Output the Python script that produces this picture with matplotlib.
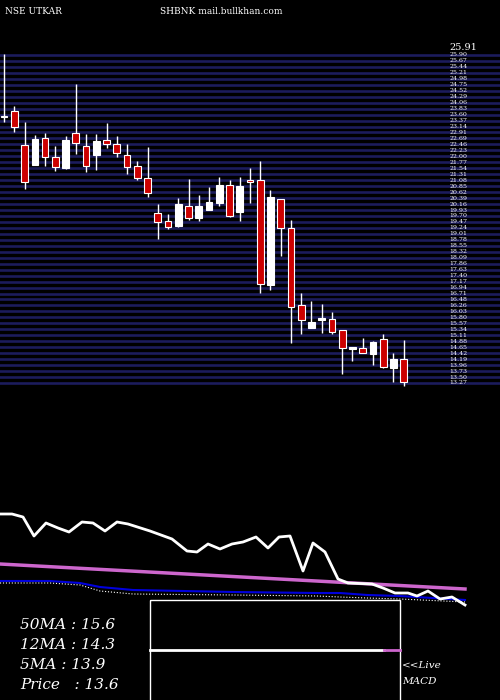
import numpy as np
import matplotlib
matplotlib.use("Agg")
import matplotlib.pyplot as plt

# candle data (price) ---------
opens  = [23.55, 23.74, 22.43, 21.67, 22.70, 21.97, 21.55, 22.90, 22.40, 22.05,
          22.63, 22.47, 22.05, 21.63, 21.16, 19.82, 19.51, 19.32, 20.09, 19.62,
          19.93, 20.20, 20.90, 19.86, 21.05, 21.09, 17.05, 20.36, 19.24, 16.28,
          15.39, 15.70, 15.74, 15.31, 14.58, 14.62, 14.39, 14.97, 13.85, 14.20]
closes = [23.50, 23.13, 21.01, 22.67, 21.97, 21.59, 22.63, 22.51, 21.63, 22.59,
          22.47, 22.13, 21.59, 21.16, 20.59, 19.47, 19.28, 20.16, 19.62, 20.09,
          20.24, 20.90, 19.70, 20.86, 21.02, 17.08, 20.43, 19.24, 16.20, 15.70,
          15.62, 15.72, 15.24, 14.62, 14.60, 14.43, 14.85, 13.89, 14.20, 13.31]
highs  = [25.94, 23.94, 23.32, 22.82, 22.90, 22.40, 22.78, 24.78, 22.86, 22.86,
          23.28, 22.78, 22.47, 21.82, 22.36, 20.16, 19.78, 20.39, 21.13, 20.51,
          20.82, 21.20, 21.09, 21.20, 21.55, 21.82, 20.70, 20.36, 19.55, 16.74,
          16.43, 16.31, 16.01, 15.31, 14.66, 15.00, 14.89, 15.16, 14.43, 14.93]
lows   = [23.32, 22.94, 20.74, 21.67, 21.63, 21.43, 21.51, 22.09, 21.40, 21.47,
          22.32, 21.97, 21.32, 21.09, 20.43, 18.82, 19.20, 19.28, 19.55, 19.51,
          19.93, 20.09, 19.66, 19.51, 20.20, 16.74, 16.85, 18.16, 14.81, 15.16,
          15.39, 15.20, 15.16, 13.62, 14.12, 14.43, 13.97, 13.85, 13.31, 13.16]

# indicator lines (panel pixel units) --------
ma_x   = [0, 12, 23, 34, 46, 58, 69, 82, 93, 105, 117, 128, 150, 172, 187, 197, 208, 220,
          232, 243, 256, 268, 279, 290, 303, 313, 325, 338, 348, 372, 383, 395, 408, 417,
          428, 440, 452, 465]
ma_price = [514, 514, 517, 536, 523, 528, 532, 522, 523, 531, 522, 524, 531, 539, 551, 552,
            544, 549, 544, 542, 537, 548, 537, 536, 571, 543, 552, 579, 583, 584, 588, 593,
            593, 596, 591, 599, 597, 605]
ma50_x = [0, 465]
ma50_y = [564, 589]
ma12_x = [0, 50, 80, 100, 133, 233, 317, 340, 367, 400, 465]
ma12_y = [581, 581, 583, 587, 590, 592, 593, 593, 595, 596, 600]
ma5_y  = [583, 583, 585, 591, 594, 595, 596, 597, 598, 599, 602]

labels = ["50MA : 15.6", "12MA : 14.3", "5MA : 13.9", "Price   : 13.6"]

fig = plt.figure(figsize=(5, 7), dpi=100, facecolor="black")

# price panel --------
ax = fig.add_axes([0, 1 - 390 / 700, 1, 340 / 700])
ax.set_facecolor("black")
y_top, y_bot = 26.09, 13.0
ax.set_ylim(y_bot, y_top)
ax.set_xlim(-0.4, 48.4)
ax.axis("off")

grid = np.linspace(25.9, 13.27, 56)
for g in grid:
    ax.axhline(g, color="#1c1c5c", lw=1.9, zorder=0)
    ax.text(43.5, g, f"{g:.2f}", color="white", fontsize=4.5, va="center",
            family="DejaVu Serif", zorder=1)
ax.text(43.5, 26.2, "25.91", color="white", fontsize=7, va="center", family="DejaVu Serif")

for i in range(len(opens)):
    o, c, h, l = opens[i], closes[i], highs[i], lows[i]
    up = c >= o
    ax.vlines(i, l, h, color="white", lw=1, zorder=2)
    body = max(abs(c - o), 0.06)
    ax.bar(i, body, bottom=min(o, c), width=0.65,
           color="white" if up else "#cc0000", edgecolor="white", lw=0.8, zorder=3)

# indicator panel (pixel coordinates) --------
bx = fig.add_axes([0, 0, 1, 1])
bx.set_xlim(0, 500)
bx.set_ylim(700, 0)
bx.axis("off")
bx.patch.set_alpha(0)
bx.plot(ma50_x, ma50_y, color="#cc66cc", lw=2.5)
bx.plot(ma12_x, ma12_y, color="#0000dd", lw=1.5)
bx.plot(ma12_x, ma5_y, color="white", lw=0.8, ls=":")
bx.plot(ma_x, ma_price, color="white", lw=2)

bx.add_patch(plt.Rectangle((150, 600), 250, 102, fill=False, ec="white", lw=1))
bx.plot([150, 384], [650, 650], color="white", lw=2)
bx.plot([384, 400], [650, 650], color="#cc66cc", lw=2)

for k, t in enumerate(labels):
    bx.text(20, 625 + 20 * k, t, color="white", fontsize=11, style="italic",
            family="DejaVu Serif", va="center")
bx.text(402, 666, "<<Live", color="white", fontsize=7.5, style="italic", family="DejaVu Serif", va="center")
bx.text(402, 681, "MACD", color="white", fontsize=7.5, style="italic", family="DejaVu Serif", va="center")

bx.text(5, 12, "NSE UTKAR", color="white", fontsize=6.5, family="DejaVu Serif", va="center")
bx.text(160, 12, "SHBNK mail.bullkhan.com", color="white", fontsize=6.5, family="DejaVu Serif", va="center")

fig.savefig("out.png", dpi=100, facecolor="black")
